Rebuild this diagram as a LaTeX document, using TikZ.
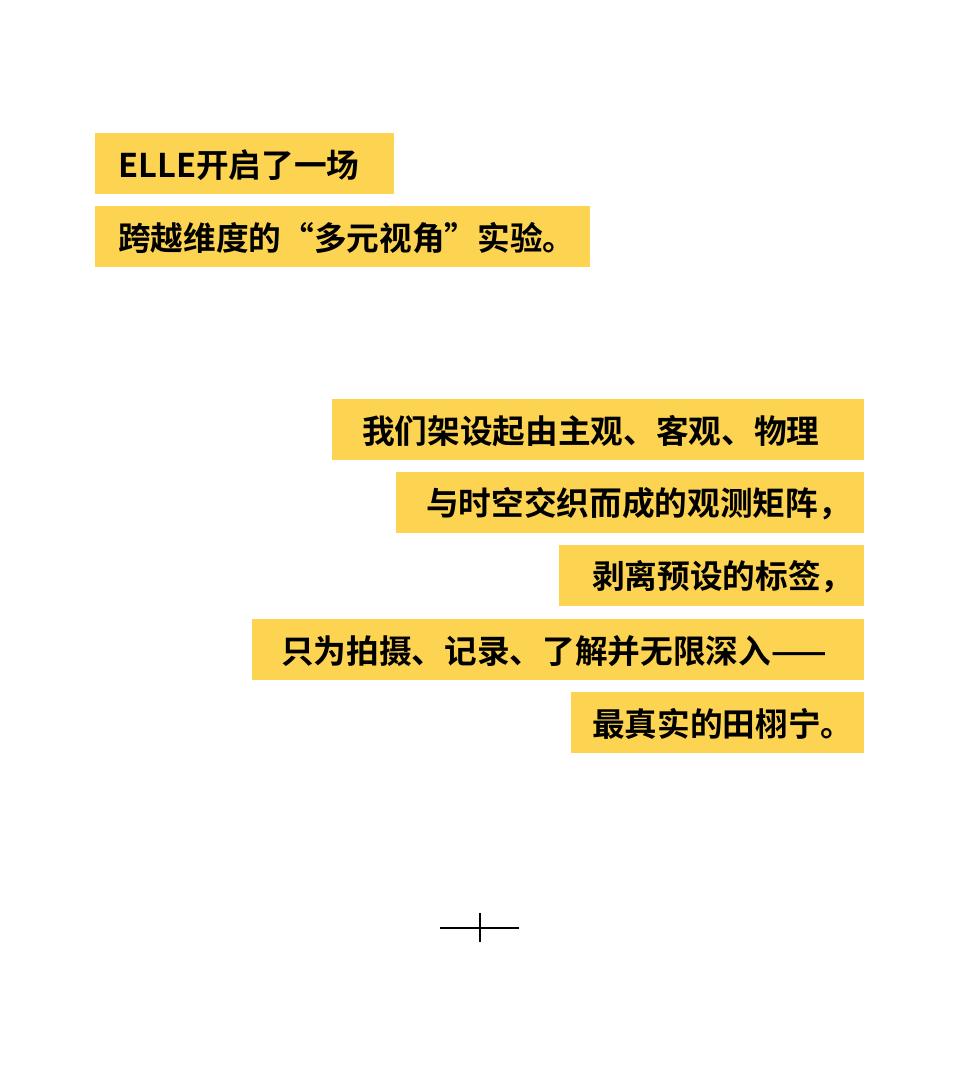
\documentclass[tikz,border=0pt]{standalone}
\usepackage{fontspec}
\newfontfamily\cjk{Noto Sans CJK SC Bold}
\definecolor{hilite}{HTML}{FDD452}
\tikzset{bar/.style={fill=hilite,draw=none},
  line/.style={font=\cjk\fontsize{24.5pt}{26pt}\selectfont,anchor=west,inner sep=0pt,text=black}}

\begin{document}
\begin{tikzpicture}[x=0.75pt,y=-0.75pt]
    \useasboundingbox (0,0) rectangle (960,1067);
    % highlight bars
    \fill[bar] (95,133) rectangle (394,194);
    \fill[bar] (95,206) rectangle (590,267);
    \fill[bar] (332,399) rectangle (864,460);
    \fill[bar] (396,472) rectangle (864,533);
    \fill[bar] (559,545) rectangle (864,606);
    \fill[bar] (252,619) rectangle (864,680);
    \fill[bar] (571,692) rectangle (864,753);

    \node[line] (l1) at (118,165) {ELLE开启了一场};
    \node[line] (l2) at (118,238) {跨越维度的“多元视角”实验。};
    \node[line] (l3) at (362,431) {我们架设起由主观、客观、物理};
    \node[line] (l4) at (426,504) {与时空交织而成的观测矩阵，};
    \node[line] (l5) at (592,577) {剥离预设的标签，};
    \node[line] (l6) at (281,651) {只为拍摄、记录、了解并无限深入——};
    \node[line] (l7) at (592,724) {最真实的田栩宁。};

    % cross mark
    \coordinate (cw) at (440,928);
    \coordinate (ce) at (519,928);
    \coordinate (cn) at (480,913);
    \coordinate (cs) at (480,942);
    \draw[line width=0.8pt] (cw) -- (ce);
    \draw[line width=0.8pt] (cn) -- (cs);
\end{tikzpicture}
\end{document}
